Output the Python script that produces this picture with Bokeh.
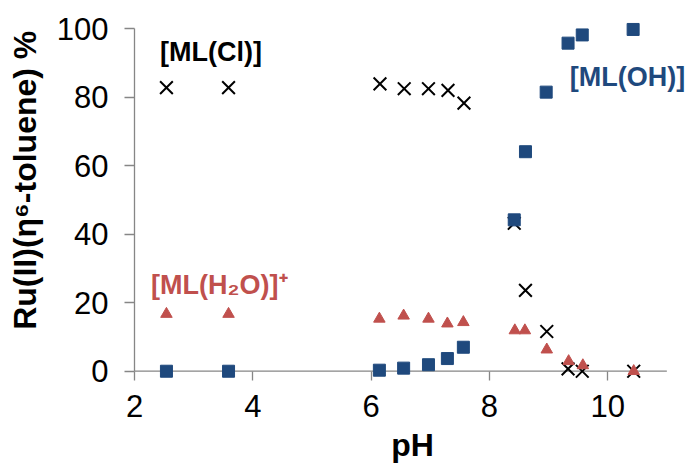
from bokeh.plotting import figure
from bokeh.models import Range1d, FixedTicker, Label, ColumnDataSource
from bokeh.embed import file_html
from bokeh.resources import INLINE

# ---- data ----
ph_cl = [2.54, 3.59, 6.15, 6.56, 6.97, 7.30, 7.57, 8.42, 8.61, 8.97, 9.33, 9.57, 10.44]
ml_cl = [82.8, 82.8, 83.9, 82.5, 82.5, 82.0, 78.3, 43.2, 23.6, 11.6, 0.7, 0.0, 0.0]

ph_oh = [2.54, 3.59, 6.14, 6.55, 6.97, 7.29, 7.56, 8.42, 8.61, 8.96, 9.33, 9.57, 10.43]
ml_oh = [0.0, 0.0, 0.3, 0.9, 1.9, 3.7, 7.0, 44.2, 64.1, 81.5, 95.8, 98.2, 99.8]

ph_h2o = [2.54, 3.59, 6.14, 6.55, 6.97, 7.29, 7.56, 8.43, 8.60, 8.97, 9.34, 9.58, 10.44]
ml_h2o = [16.7, 16.7, 15.3, 16.2, 15.3, 13.9, 14.3, 11.9, 11.9, 6.3, 2.9, 1.7, 0.0]

x_ticks = [2, 4, 6, 8, 10]
y_ticks = [0, 20, 40, 60, 80, 100]
x_axis_span = [2, 11]      # extent of the pH axis line
y_axis_span = (0, 100)     # extent of the % axis line

label_cl = "[ML(Cl)]"
label_oh = "[ML(OH)]"
label_h2o = "[ML(H\u2082O)]\u207a"
x_title = "pH"
y_title = "\u2003\u2009Ru(II)(\u03b7\u2076-toluene) %"

BLUE = "#1f497d"
RED = "#c0504d"
AXIS = "#868686"
FONT = "Liberation Sans"

Y_LO, Y_HI = -2.71, 103.0

p = figure(width=690, height=465, output_backend="svg", toolbar_location=None,
           x_range=Range1d(2, 11.4), y_range=Range1d(Y_LO, Y_HI),
           min_border_top=18, min_border_bottom=84, min_border_left=134,
           min_border_right=0)
p.outline_line_color = None
p.grid.visible = False
p.background_fill_color = "white"
p.border_fill_color = "white"

for ax in (p.xaxis[0], p.yaxis[0]):
    ax.axis_line_color = AXIS
    ax.axis_line_width = 1.3
    ax.major_tick_line_color = AXIS
    ax.major_tick_line_width = 1.3
    ax.minor_tick_line_color = None
    ax.major_label_text_font = FONT
    ax.major_label_text_font_size = "31px"
    ax.major_label_text_color = "black"
    ax.axis_label_text_font = FONT
    ax.axis_label_text_font_style = "bold"
    ax.axis_label_text_font_size = "32px"
    ax.axis_label_text_color = "black"

# x axis: line drawn at y=0 below; ticks reach from y=0 down to the frame edge
xa = p.xaxis[0]
xa.ticker = FixedTicker(ticks=x_ticks)
xa.axis_line_color = None
xa.major_tick_in = 9
xa.major_tick_out = 0
xa.major_label_standoff = 14
xa.axis_label = x_title
xa.axis_label_standoff = 7

ya = p.yaxis[0]
ya.ticker = FixedTicker(ticks=y_ticks)
ya.bounds = y_axis_span
ya.major_tick_in = 0
ya.major_tick_out = 10
ya.major_label_standoff = 16
ya.axis_label = y_title
ya.axis_label_standoff = 11

p.line(x=x_axis_span, y=[0, 0], line_color=AXIS, line_width=1.3)

src_cl = ColumnDataSource(dict(x=ph_cl, y=ml_cl))
src_oh = ColumnDataSource(dict(x=ph_oh, y=ml_oh))
src_h2o = ColumnDataSource(dict(x=ph_h2o, y=ml_h2o))

p.scatter("x", "y", source=src_cl, marker="x", size=18, line_color="black", line_width=2)
p.scatter("x", "y", source=src_oh, marker="square", size=12, fill_color=BLUE, line_color=BLUE)
p.scatter("x", "y", source=src_h2o, marker="triangle", size=11.5, fill_color=RED, line_color=RED)

def add_label(x, y, text, color):
    p.add_layout(Label(x=x, y=y, text=text, text_color=color, text_font=FONT,
                       text_font_size="27px", text_font_style="bold",
                       text_baseline="middle", text_align="left"))

add_label(2.43, 93.1, label_cl, "black")
add_label(9.36, 85.8, label_oh, BLUE)
add_label(2.28, 25.3, label_h2o, RED)

open("out.html", "w").write(file_html(p, INLINE))
